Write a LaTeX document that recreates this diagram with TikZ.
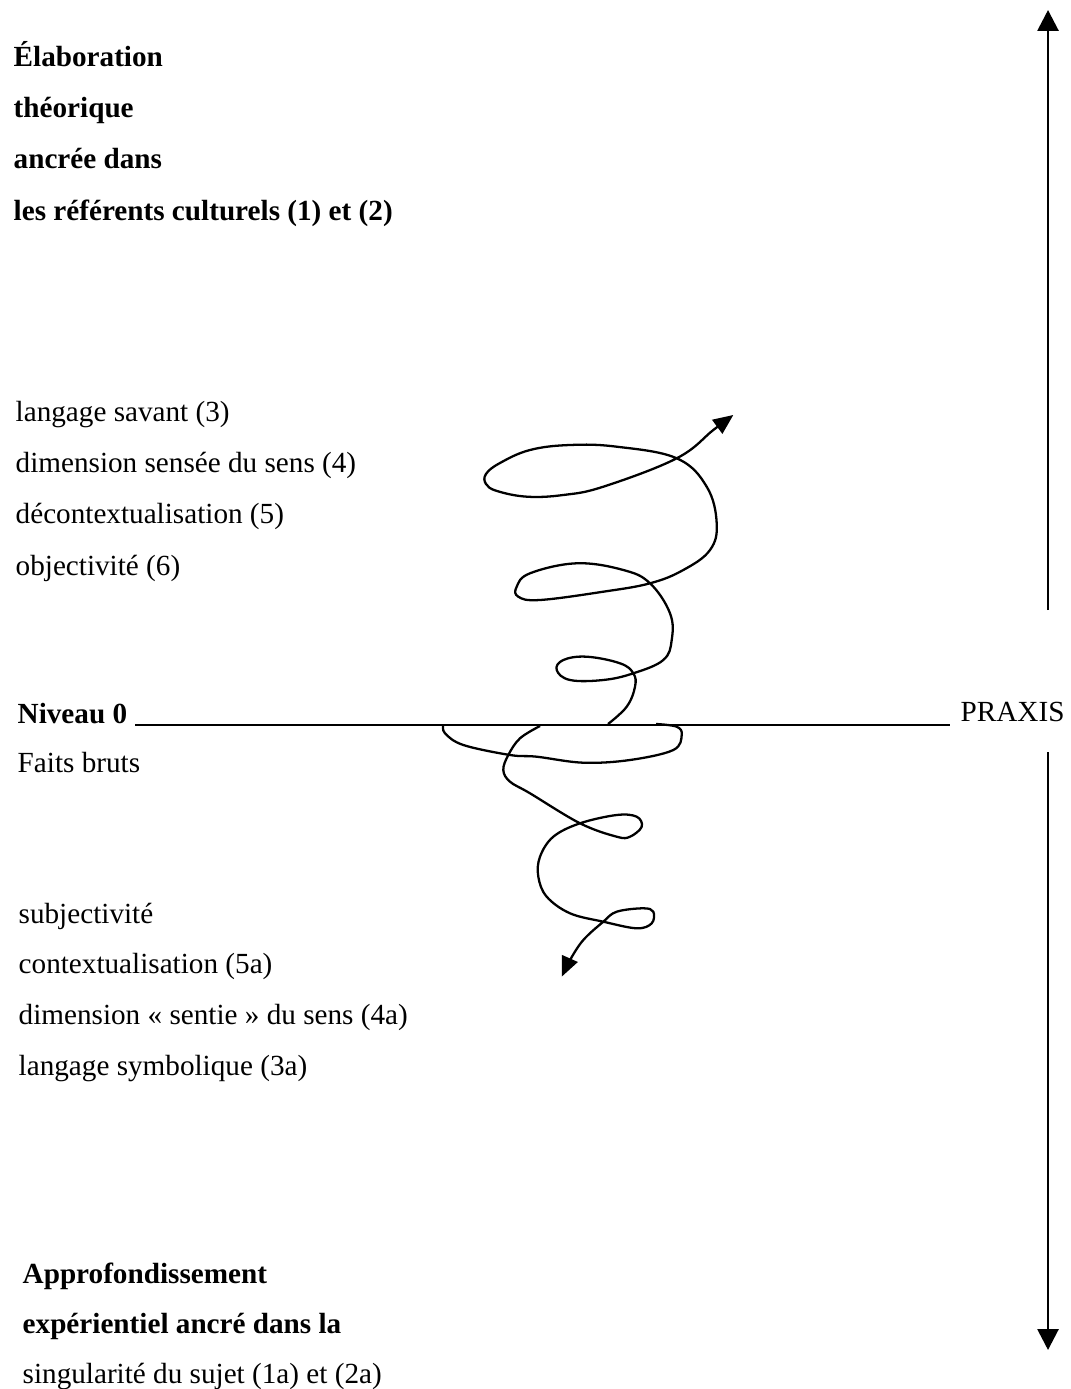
\documentclass[tikz,border=0pt]{standalone}
\usepackage{fontspec}
\setmainfont{Liberation Serif}
\usetikzlibrary{arrows.meta}
\newcommand{\lblsize}{\fontsize{8.3}{10}\selectfont}

\begin{document}
\begin{tikzpicture}[x=0.01cm,y=-0.01cm,
    txt/.style={anchor=base west,inner sep=0pt,font=\lblsize},
    txtb/.style={txt,font=\lblsize\bfseries},
    axis/.style={line width=0.8pt,-{Triangle[length=0.21cm,width=0.21cm]}},
    spiral/.style={line width=0.65pt,line join=round}]
  \useasboundingbox (0,0) rectangle (1070,1389);

  % upper block
  \node[txtb] (elab1) at (13,67) {Élaboration};
  \node[txtb] (elab2) at (13,118) {théorique};
  \node[txtb] (elab3) at (13,169) {ancrée dans};
  \node[txtb] (elab4) at (13,221) {les référents culturels (1) et (2)};

  \node[txt] (sav1) at (15,422) {langage savant (3)};
  \node[txt] (sav2) at (15,473) {dimension sensée du sens (4)};
  \node[txt] (sav3) at (15,524) {décontextualisation (5)};
  \node[txt] (sav4) at (15,575) {objectivité (6)};

  % level 0
  \node[txtb] (niv) at (17,723) {Niveau 0};
  \node[txt] (faits) at (17,772) {Faits bruts};
  \node[txt] (praxis) at (960,721) {PRAXIS};

  % lower block
  \node[txt] (sym1) at (18,923) {subjectivité};
  \node[txt] (sym2) at (18,973) {contextualisation (5a)};
  \node[txt] (sym3) at (18,1024) {dimension « sentie » du sens (4a)};
  \node[txt] (sym4) at (18,1075) {langage symbolique (3a)};

  \node[txtb] (appr1) at (22,1283) {Approfondissement};
  \node[txtb] (appr2) at (22,1333) {expérientiel ancré dans la};
  \node[txt] (appr3) at (22,1383) {singularité du sujet (1a) et (2a)};

  % axes
  \coordinate (lineL) at (135,725);
  \coordinate (lineR) at (950,725);
  \coordinate (upB) at (1048,610);
  \coordinate (upT) at (1048,10);
  \coordinate (dnT) at (1048,752);
  \coordinate (dnB) at (1048,1350);
  \draw[line width=0.6pt] (lineL) -- (lineR);
  \draw[axis] (upB) -- (upT);
  \draw[axis] (dnT) -- (dnB);

  % spiral
  \draw[spiral,-{Triangle[length=0.2cm,width=0.17cm]}] plot[smooth,tension=0.65] coordinates {
    (608,724) (626.7,706.7) (635,686.7) (633.3,673.3) (620,663.3) (586.7,656.7)
    (563.3,660) (556.7,670) (570,680) (603.3,680) (633.3,673.3) (663.3,660)
    (671.7,640) (670,613.3) (650,583.3) (623.3,570) (576.7,563.3) (530,573.3)
    (516.7,586.7) (518.3,596.7) (540,600) (603.3,591.7) (650,583.3) (683.3,570)
    (710,550) (716.7,523.3) (706.7,486.7) (676.7,458.3) (616.7,446.7) (570,445)
    (530,450) (500,463) (486,474) (486,484) (497,491) (527,496.7) (563.3,495)
    (603.3,486.7) (676.7,458.3) (713.3,430) (733.3,415)};
  \draw[spiral] plot[smooth,tension=0.6] coordinates {
    (656,724) (676.7,726.7) (681.7,735) (673.3,750) (630,760) (583.3,762.7)
    (536.7,756.7) (510,755) (463.3,745) (445,733.3) (443.3,725)};
  \draw[spiral,{Triangle[length=0.2cm,width=0.17cm]}-] plot[smooth,tension=0.6] coordinates {
    (561.7,976.7) (570,960) (583.3,940) (603.3,921.7) (616.7,911.7) (643.3,908.3)
    (653.3,911.7) (651.7,923.3) (636.7,928.3) (603.3,921.7) (570,913.3)
    (546.7,896.7) (538.3,876.7) (540,856.7) (553.3,836.7) (580,823.3)
    (616.7,815) (636.7,816.7) (641.7,826.7) (630,836.7) (616.7,836.7)
    (580,823.3) (530,793.3) (510,781.7) (503.3,770) (508.3,755) (520,738.3)
    (540,726)};
\end{tikzpicture}
\end{document}
